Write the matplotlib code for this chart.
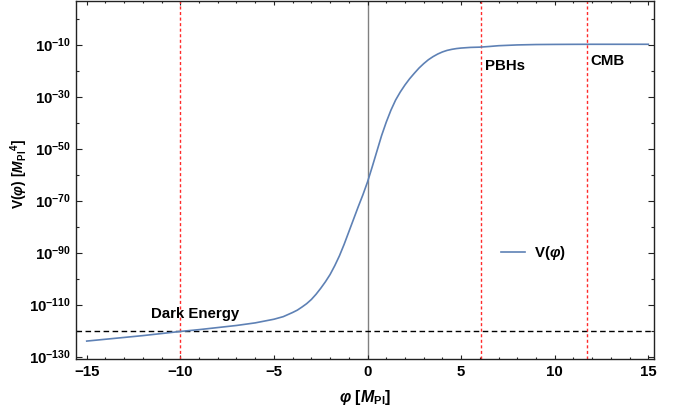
import numpy as np
import matplotlib
matplotlib.use("Agg")
import matplotlib.pyplot as plt
from matplotlib.ticker import FixedLocator, FuncFormatter, NullFormatter

plt.rcParams['font.family'] = ['Liberation Sans', 'DejaVu Sans']
plt.rcParams['font.weight'] = 'bold'
plt.rcParams['mathtext.fontset'] = 'custom'
plt.rcParams['mathtext.rm'] = 'Liberation Sans:bold'
plt.rcParams['mathtext.bf'] = 'Liberation Sans:bold'
plt.rcParams['mathtext.it'] = 'Liberation Sans:italic:bold'
plt.rcParams['mathtext.sf'] = 'Liberation Sans:bold'

# ---- data ----
phi = [-15, -14, -13, -12, -11, -10, -9, -8, -7, -6, -5, -4.5,
       -4, -3.75, -3.5, -3.25, -3, -2.75, -2.5, -2.25, -2, -1.75, -1.5, -1.25,
       -1, -0.75, -0.5, -0.25, 0, 0.25, 0.5, 0.75, 1, 1.25, 1.5, 1.75,
       2, 2.25, 2.5, 2.75, 3, 3.25, 3.5, 3.75, 4, 4.25, 4.5, 4.75,
       5, 5.5, 6, 6.5, 7, 8, 9, 10, 11, 12, 13, 14, 15]
log10_V = [-124.0, -123.3, -122.6, -121.9, -121.1, -120.3, -119.6, -118.8,
           -118.0, -117.0, -115.6, -114.6,
           -113.0, -112.1, -110.9, -109.6, -108.0, -106.0, -103.7, -101.2,
           -98.4, -95.0, -91.2, -86.8,
           -82.0, -77.2, -72.4, -67.8, -62.8, -57.0, -51.0, -45.0,
           -39.8, -35.2, -31.3, -28.2,
           -25.5, -23.1, -21.0, -19.0, -17.3, -15.8, -14.6, -13.6,
           -12.8, -12.2, -11.8, -11.5,
           -11.3, -11.05, -10.95, -10.7, -10.4, -10.1, -9.95, -9.9, -9.87,
           -9.85, -9.85, -9.85, -9.85]
dark_energy_level = -120.1     # log10 of horizontal dashed line
marker_phi = [-10.0, 6.06, 11.74]  # vertical red dashed lines
marker_names = ["Dark Energy", "PBHs", "CMB"]
y_major = list(range(-130, 0, 20))
y_minor = list(range(-120, 10, 20))
x_major = [-15, -10, -5, 0, 5, 10, 15]

V = [10.0 ** v for v in log10_V]

fig = plt.figure(figsize=(6.83, 4.12), dpi=100)
ax = fig.add_axes([0.1108, 0.1286, 0.8472, 0.869])

ax.set_yscale('log')
ax.set_xlim(-15.59, 15.32)
ax.set_ylim(10.0 ** -130.9, 10.0 ** 6.8)

# reference lines
ax.axvline(0, color='#808080', lw=1.0, zorder=1)
ax.axhline(10.0 ** dark_energy_level, color='black', lw=1.0,
           dashes=(4, 2.5), zorder=2)
for xv in marker_phi:
    ax.axvline(xv, color='#ff2a2a', lw=1.0, dashes=(2.2, 1.8), zorder=2)

ax.plot(phi, V, color='#5E81B5', lw=1.2, zorder=3, label=r'$\mathrm{V}(\varphi)$')

# annotations
ax.text(-9.2, 10.0 ** -113.6, marker_names[0], fontsize=10.8, fontweight='bold',
        ha='center', va='center')
ax.text(6.25, 10.0 ** -18.2, marker_names[1], fontsize=10.8, fontweight='bold',
        ha='left', va='center')
ax.text(11.93, 10.0 ** -16.3, marker_names[2], fontsize=10.8, fontweight='bold',
        ha='left', va='center')

# ticks
ax.xaxis.set_major_locator(FixedLocator(x_major))
ax.xaxis.set_minor_locator(FixedLocator([v for v in range(-15, 16) if v not in x_major]))
ax.yaxis.set_major_locator(FixedLocator([10.0 ** v for v in y_major]))
ax.yaxis.set_minor_locator(FixedLocator([10.0 ** v for v in y_minor]))
ax.yaxis.set_major_formatter(FuncFormatter(
    lambda v, pos: r'$10^{%d}$' % int(round(np.log10(v)))))
ax.yaxis.set_minor_formatter(NullFormatter())
ax.xaxis.set_minor_formatter(NullFormatter())
ax.xaxis.set_major_formatter(FuncFormatter(
    lambda v, pos: (u'\u2212%d' % abs(v)) if v < 0 else '%d' % v))

ax.tick_params(axis='both', which='both', direction='in', top=True, right=True,
               labelsize=10.8, width=0.8, color='#222222')
ax.tick_params(axis='y', which='major', length=4.0, pad=3)
ax.tick_params(axis='y', which='minor', length=2.2)
ax.tick_params(axis='x', which='major', length=3.0, pad=4)
ax.tick_params(axis='x', which='minor', length=1.5)
for lab in ax.get_xticklabels() + ax.get_yticklabels():
    lab.set_fontweight('bold')

for s in ax.spines.values():
    s.set_linewidth(1.0)
    s.set_color('#222222')

ax.set_xlabel(r'$\varphi\ [M_{\mathrm{Pl}}]$', fontsize=11.5, labelpad=7)
ax.set_ylabel(r'$\mathrm{V}(\varphi)\ [M_{\mathrm{Pl}}{}^{4}]$', fontsize=10)
ax.yaxis.set_label_coords(-0.079, 0.517)

ax.legend(loc='center left', bbox_to_anchor=(0.735, 0.296), frameon=False,
          fontsize=10.8, handlelength=1.6, handletextpad=0.6, borderpad=0,
          borderaxespad=0)

fig.savefig('out.png', dpi=100)
